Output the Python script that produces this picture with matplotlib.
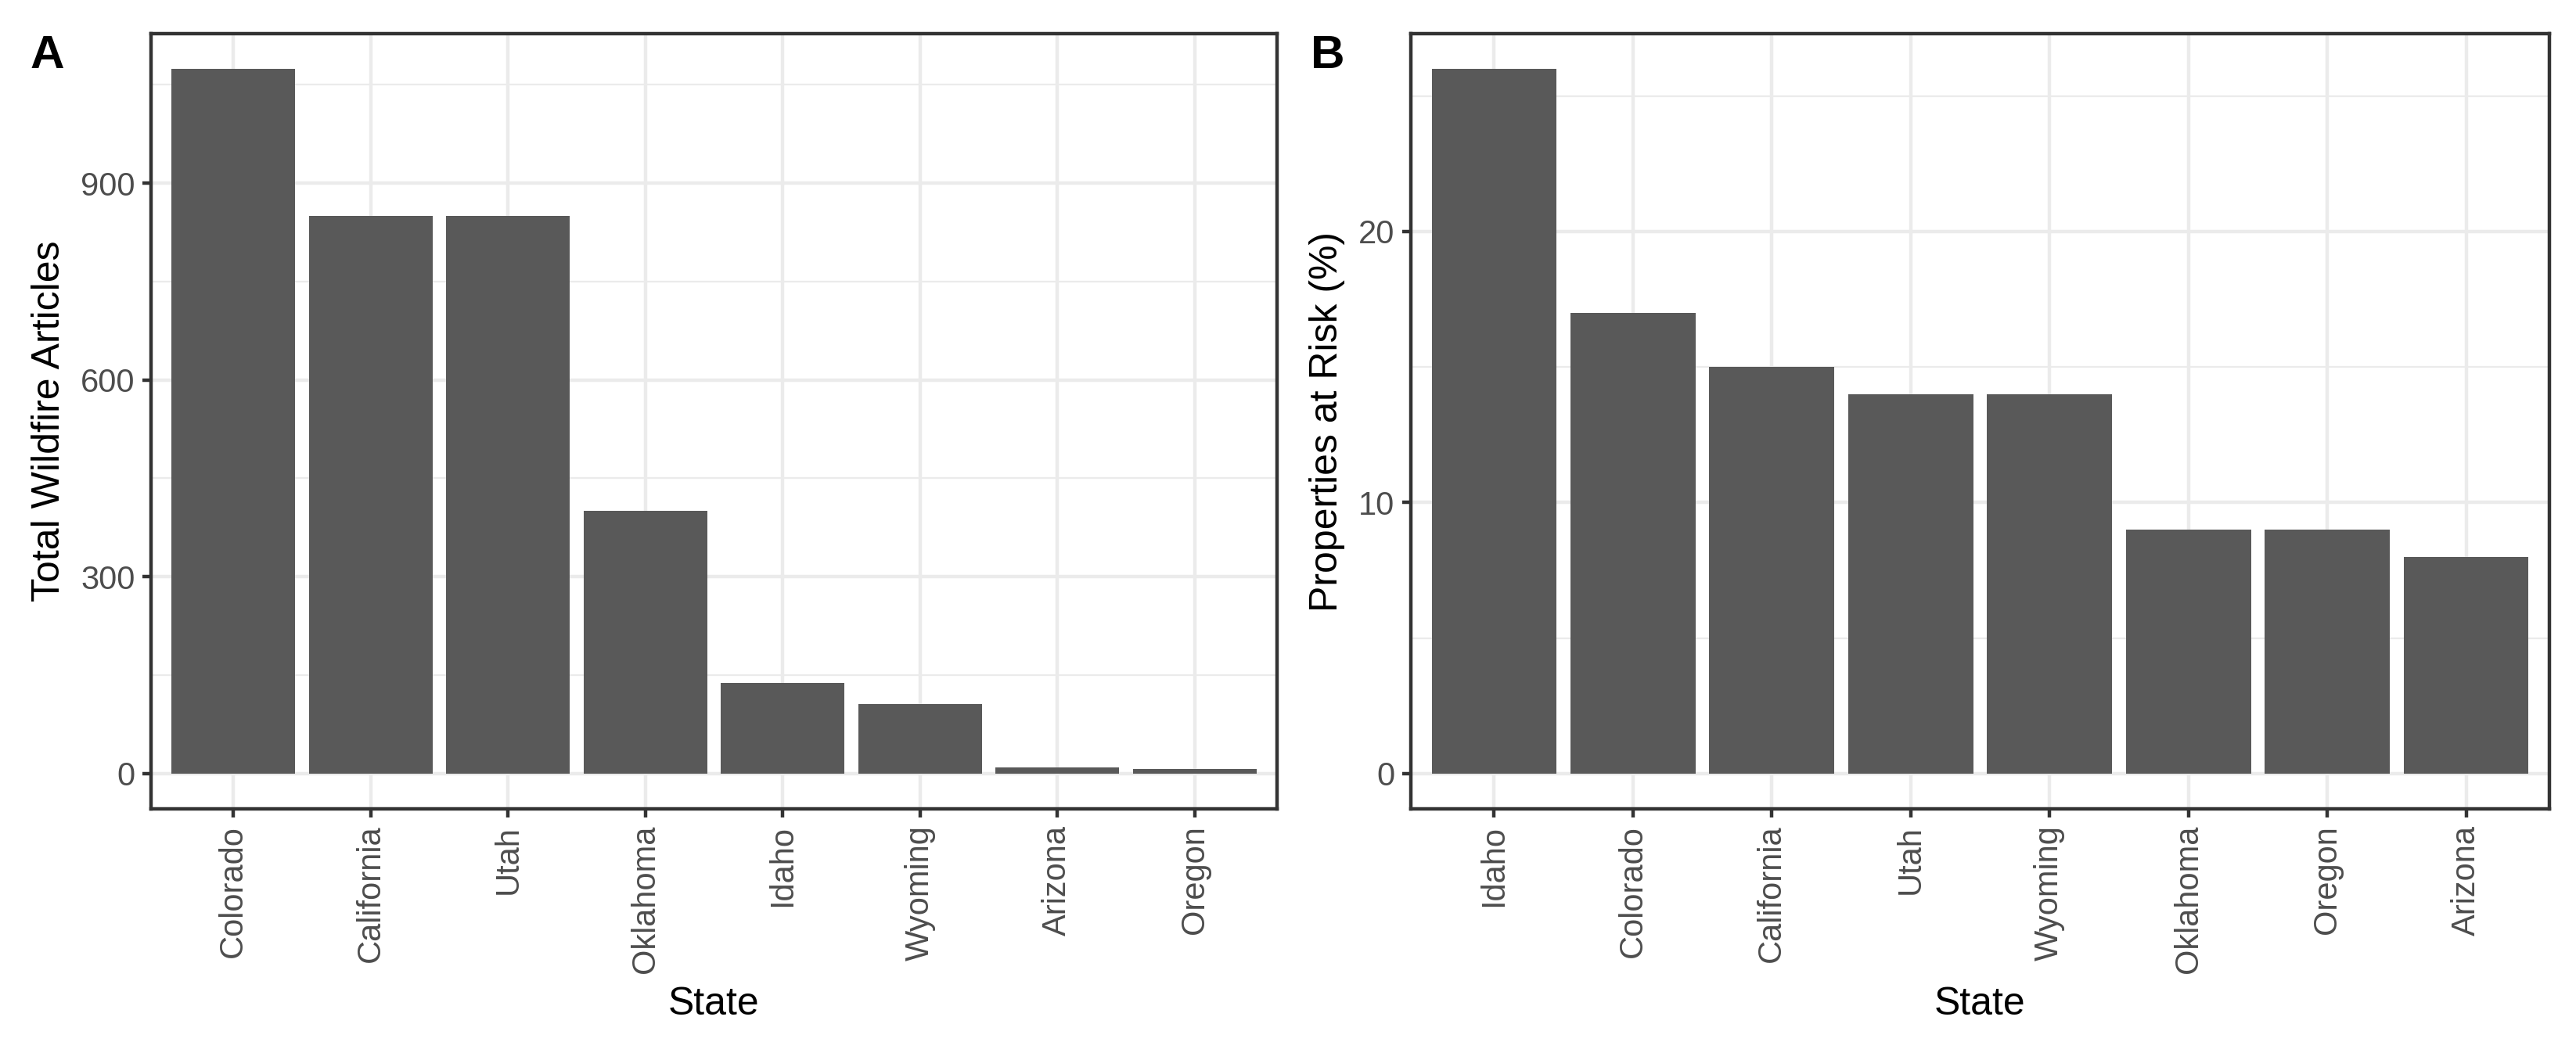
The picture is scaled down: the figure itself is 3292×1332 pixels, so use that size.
#!/usr/bin/env python3
import matplotlib
matplotlib.use("Agg")
import matplotlib.pyplot as plt
import numpy as np

# -----------------------------------------------------------------------------
# Data
# -----------------------------------------------------------------------------

states_a = ["Colorado", "California", "Utah", "Oklahoma", "Idaho", "Wyoming",
            "Arizona", "Oregon"]
articles = [1074, 850, 850, 401, 138, 106, 9, 7]

states_b = ["Idaho", "Colorado", "California", "Utah", "Wyoming", "Oklahoma",
            "Oregon", "Arizona"]
risk_pct = [26, 17, 15, 14, 14, 9, 9, 8]

# -----------------------------------------------------------------------------
# Style
# -----------------------------------------------------------------------------

plt.rcParams["font.family"] = ["Liberation Sans", "DejaVu Sans"]

W, H = 3292, 1332
DPI = 300
bar_col = "#595959"
line_w = 1.07


def frame(l, t, r, b):
    return [l / W, (H - b) / H, (r - l) / W, (b - t) / H]


def panel(ax, cats, vals, ylabel, yticks, yminor):
    x = np.arange(len(cats))
    ax.set_axisbelow(True)
    ax.bar(x, vals, width=0.9, color=bar_col, zorder=2)
    top = max(vals)
    ax.set_xlim(-0.6, len(cats) - 0.4)
    ax.set_ylim(-0.05 * top, 1.05 * top)
    ax.set_xticks(x)
    ax.set_xticklabels(cats, rotation=90, ha="center", va="top")
    ax.set_yticks(yticks)
    ax.set_yticks(yminor, minor=True)
    ax.grid(which="major", color="#EBEBEB", linewidth=line_w)
    ax.grid(which="minor", axis="y", color="#EBEBEB", linewidth=line_w / 2)
    ax.tick_params(which="major", length=2.75, width=line_w, color="#333333",
                   labelsize=10, labelcolor="#4D4D4D", pad=2.2)
    ax.tick_params(which="minor", length=0)
    for s in ax.spines.values():
        s.set_color("#333333")
        s.set_linewidth(line_w)
    ax.set_xlabel("State", fontsize=12, labelpad=4)
    ax.set_ylabel(ylabel, fontsize=12, labelpad=4)


# -----------------------------------------------------------------------------
# Plot
# -----------------------------------------------------------------------------

fig = plt.figure(figsize=(W / DPI, H / DPI), dpi=DPI)

ax_a = fig.add_axes(frame(193, 43, 1632, 1034))
panel(ax_a, states_a, articles, "Total Wildfire Articles",
      [0, 300, 600, 900], [150, 450, 750, 1050])

ax_b = fig.add_axes(frame(1803, 43, 3258, 1034))
panel(ax_b, states_b, risk_pct, "Properties at Risk (%)",
      [0, 10, 20], [5, 15, 25])

fig.text(38 / W, 1 - 44 / H, "A", fontsize=14.5, fontweight="bold",
         ha="left", va="top")
fig.text(1675 / W, 1 - 44 / H, "B", fontsize=14.5, fontweight="bold",
         ha="left", va="top")

fig.savefig("out.png", dpi=DPI, facecolor="white")
